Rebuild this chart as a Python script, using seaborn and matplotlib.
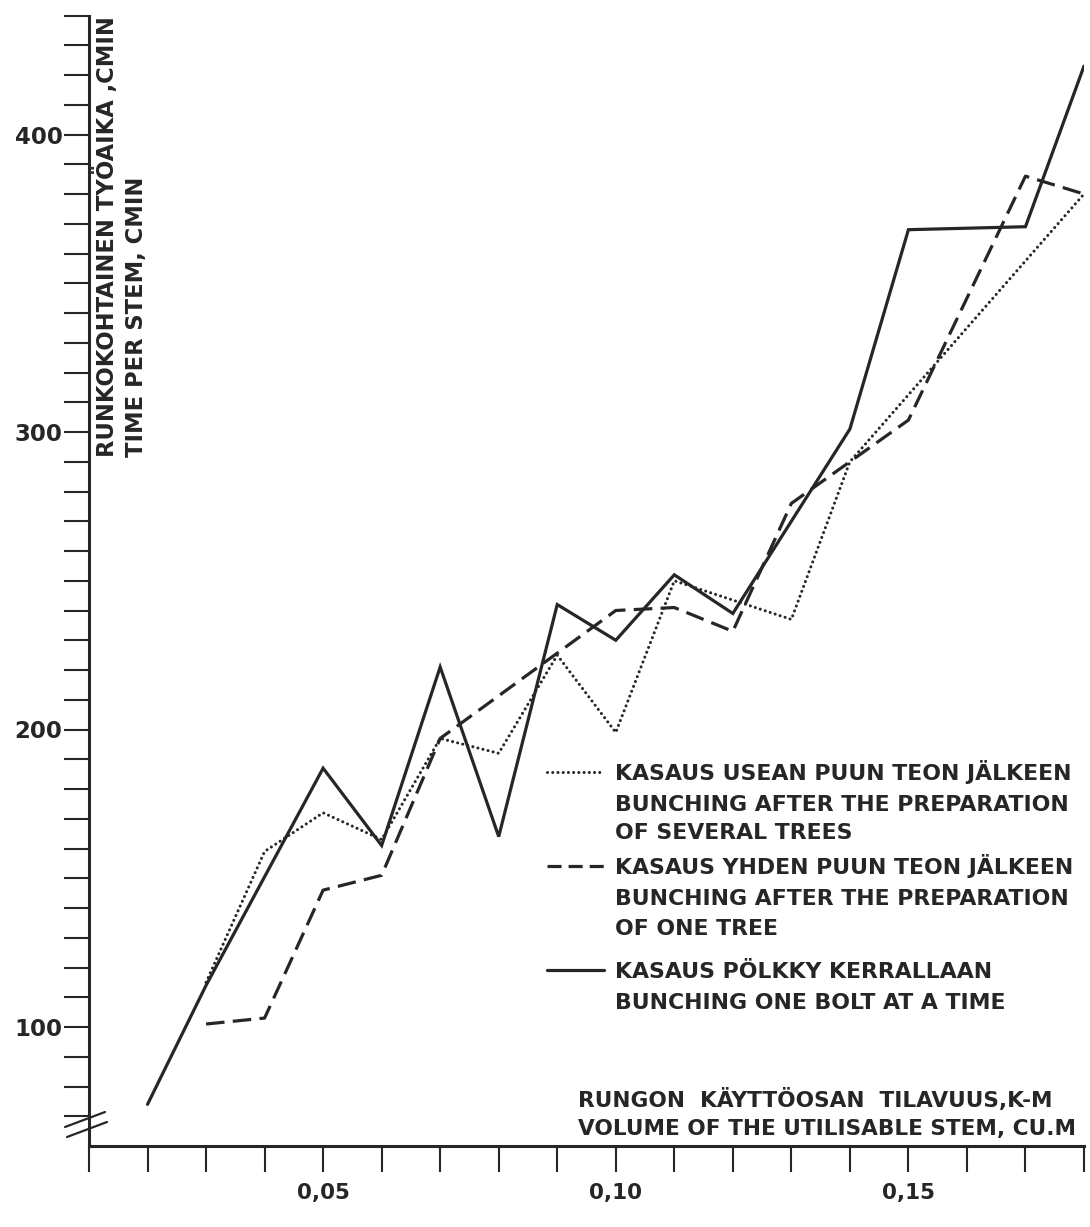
import matplotlib
matplotlib.use("Agg")
import matplotlib.pyplot as plt
from matplotlib.lines import Line2D
import numpy as np
import pandas as pd
import seaborn as sns

# Stem volume (cu.m) against working time per stem (cmin) for three bunching methods
several_x = [0.03, 0.04, 0.05, 0.06, 0.07, 0.08, 0.09, 0.10, 0.11, 0.13, 0.14, 0.18]
several_y = [115, 159, 172, 163, 197, 192, 225, 199, 250, 237, 290, 380]

one_tree_x = [0.03, 0.04, 0.05, 0.06, 0.07, 0.10, 0.11, 0.12, 0.13, 0.15, 0.17, 0.18]
one_tree_y = [101, 103, 146, 151, 197, 240, 241, 233, 276, 304, 386, 380]

one_bolt_x = [0.02, 0.03, 0.05, 0.06, 0.07, 0.08, 0.09, 0.10, 0.11, 0.12, 0.14, 0.15, 0.17, 0.18]
one_bolt_y = [74, 114, 187, 161, 221, 164, 242, 230, 252, 239, 301, 368, 369, 423]

legend_texts = [
    ["KASAUS USEAN PUUN TEON JÄLKEEN", "BUNCHING AFTER THE PREPARATION", "OF SEVERAL TREES"],
    ["KASAUS YHDEN PUUN TEON JÄLKEEN", "BUNCHING AFTER THE PREPARATION", "OF ONE TREE"],
    ["KASAUS PÖLKKY KERRALLAAN", "BUNCHING ONE BOLT AT A TIME"],
]
y_title = ["RUNKOKOHTAINEN TYÖAIKA ,CMIN", "TIME PER STEM, CMIN"]
x_title = ["RUNGON  KÄYTTÖOSAN  TILAVUUS,K-M", "VOLUME OF THE UTILISABLE STEM, CU.M"]

x_ticks = np.round(np.arange(0.01, 0.1801, 0.01), 2)
x_labeled = {0.05: "0,05", 0.10: "0,10", 0.15: "0,15"}
y_ticks = np.arange(70, 441, 10)
y_labeled = {100: "100", 200: "200", 300: "300", 400: "400"}

df = pd.concat([
    pd.DataFrame({"volume": several_x, "time": several_y, "method": "several"}),
    pd.DataFrame({"volume": one_tree_x, "time": one_tree_y, "method": "one_tree"}),
    pd.DataFrame({"volume": one_bolt_x, "time": one_bolt_y, "method": "one_bolt"}),
], ignore_index=True)

sns.set_theme(style="ticks")
plt.rcParams["font.family"] = ["DejaVu Sans"]
plt.rcParams["font.weight"] = "bold"

INK = "#262626"
W, H = 1090, 1227
fig = plt.figure(figsize=(W / 100, H / 100), dpi=100)
fig.patch.set_facecolor("white")


def fx(px):
    return px / W


def fy(py):
    return 1 - py / H


AX_TOP, AX_BOTTOM = 15.5, 1146
ax = fig.add_axes([fx(89), fy(AX_BOTTOM), (1084 - 89) / W, (AX_BOTTOM - AX_TOP) / H])
ax.set_facecolor("white")

dotted = dict(linewidth=2.2, linestyle=(0, (0.01, 1.7)), dash_capstyle="round")
dashed = dict(linewidth=2.3, linestyle=(0, (5.8, 2.6)), dash_capstyle="butt")
solid = dict(linewidth=2.3, linestyle="-", solid_joinstyle="miter")

styles = {"several": dotted, "one_tree": dashed, "one_bolt": solid}
for method, kw in styles.items():
    sub = df[df["method"] == method]
    sns.lineplot(data=sub, x="volume", y="time", ax=ax, color=INK, sort=False,
                 estimator=None, errorbar=None, legend=False, **kw)

ax.set_xlim(0.01, 0.18)
ax.set_ylim(60, 440)
ax.set_xticks(x_ticks)
ax.set_xticklabels([x_labeled.get(round(float(v), 2), "") for v in x_ticks])
ax.set_yticks(y_ticks)
ax.set_yticklabels([y_labeled.get(int(v), "") for v in y_ticks])
ax.set_xlabel("")
ax.set_ylabel("")
for side in ("top", "right"):
    ax.spines[side].set_visible(False)
for side in ("left", "bottom"):
    ax.spines[side].set_linewidth(2.2)
    ax.spines[side].set_color(INK)
ax.tick_params(axis="y", direction="out", length=18, width=1.5, pad=1,
               labelsize=16.5, colors=INK)
ax.tick_params(axis="x", direction="out", length=19, width=1.5, pad=8,
               labelsize=15.5, colors=INK)
for lab in ax.get_xticklabels() + ax.get_yticklabels():
    lab.set_fontweight("bold")

# axis break on the value axis, just below the lowest tick
T = 1116
for (x0, y0, x1, y1) in [(65, T + 11, 105, T - 4), (67, T + 21, 107, T + 6)]:
    fig.add_artist(Line2D([fx(x0), fx(x1)], [fy(y0), fy(y1)], color=INK, lw=1.6))


def put_text(px, py_mid, s, size, **kw):
    cap = 0.729 * size * 100 / 72
    fig.text(fx(px), fy(py_mid + cap / 2), s, fontsize=size, fontweight="bold",
             color=INK, va="baseline", **kw)


# value axis title, rotated, inside the plot area
fig.text(fx(107), fy(457), y_title[0], rotation=90, ha="center", va="bottom",
         fontsize=16.3, fontweight="bold", color=INK)
fig.text(fx(137), fy(457), y_title[1], rotation=90, ha="center", va="bottom",
         fontsize=16.3, fontweight="bold", color=INK)

# volume axis title
put_text(578, 1099, x_title[0], 15.6, ha="left")
put_text(578, 1127, x_title[1], 15.6, ha="left")

# key
key_rows = [[772, 803, 831], [866, 897, 927], [970, 1001]]
key_styles = [
    dotted,
    dict(linewidth=2.3, linestyle=(0, (4.4, 2.2)), dash_capstyle="butt"),
    solid,
]
for rows, texts, kw in zip(key_rows, legend_texts, key_styles):
    fig.add_artist(Line2D([fx(547), fx(604)], [fy(rows[0])] * 2, color=INK, **kw))
    for py, s in zip(rows, texts):
        put_text(615, py, s, 15.8, ha="left")

fig.savefig("out.png", dpi=100, facecolor="white")
